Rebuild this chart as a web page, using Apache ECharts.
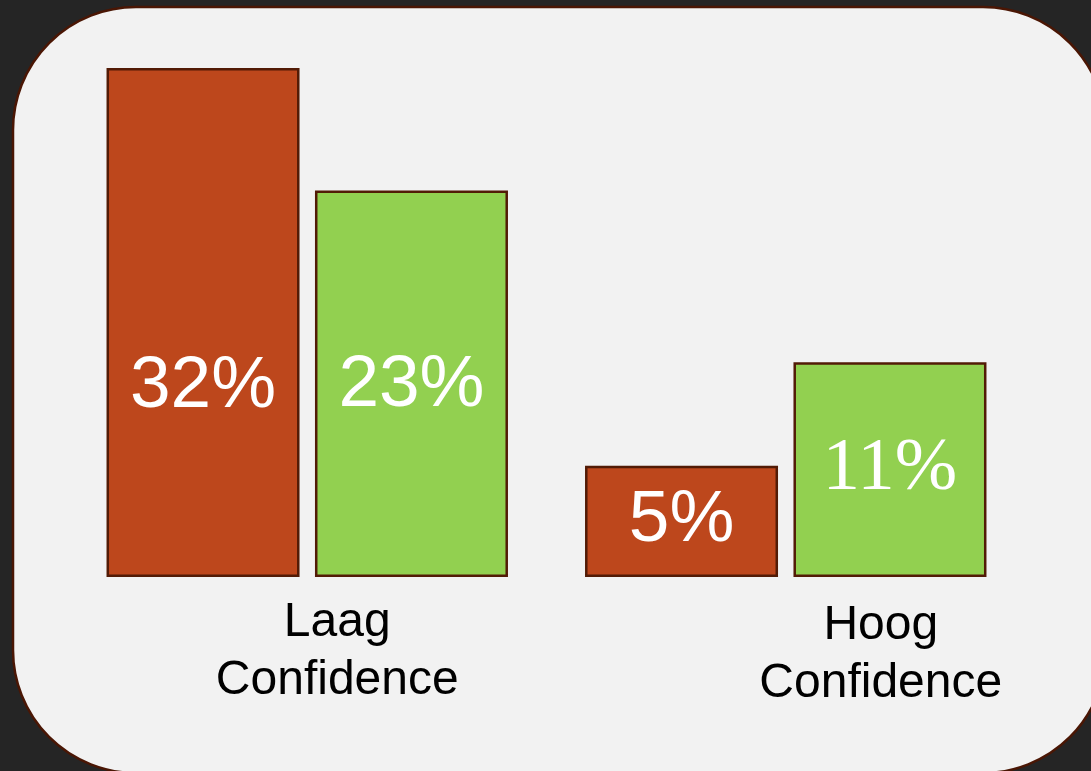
<!DOCTYPE html>
<html>
<head>
<meta charset="utf-8">
<script src="https://cdn.jsdelivr.net/npm/echarts@6/dist/echarts.min.js"></script>
<style>
    html, body { margin: 0; padding: 0; background: #252525; }
    #chart { width: 1091px; height: 771px; }
</style>
</head>
<body>
<div id="chart"></div>
<script>
// categories (two-line labels)
var categories = ['Laag\nConfidence', 'Hoog\nConfidence'];
// bar heights (in the same units as the 32% bar)
var redHeights = [32, 7.0];
var greenHeights = [24.3, 13.5];
// printed labels
var redLabels = ['32%', '5%'];
var greenLabels = ['23%', '11%'];

var RED = '#BD471C', GREEN = '#92D050', EDGE = '#521B06';

function buildData(heights, labels, extra) {
    var out = [];
    for (var i = 0; i < heights.length; i++) {
        var item = { value: heights[i], name: labels[i], label: {} };
        if (extra[i]) item.label = extra[i];
        out.push(item);
    }
    return out;
}

var myChart = echarts.init(document.getElementById('chart'));
var option = {
    backgroundColor: '#252525',
    animation: false,
    graphic: [{
        type: 'rect',
        z: -10,
        shape: { x: 13, y: 7, width: 1093, height: 766, r: 123 },
        style: { fill: '#F2F2F2', stroke: '#4A1604', lineWidth: 2.5 }
    }],
    grid: { left: 68, right: 66, top: 68, bottom: 194 },
    xAxis: {
        type: 'category',
        data: categories,
        axisLine: { show: false },
        axisTick: { show: false },
        axisLabel: {
            interval: 0,
            margin: 17,
            formatter: function (val, idx) {
                var key = idx === 0 ? 'a' : 'b';
                return val.split('\n').map(function (s) { return '{' + key + '|' + s + '}'; }).join('\n');
            },
            rich: {
                a: { fontFamily: 'Liberation Sans', fontSize: 48, color: '#000', lineHeight: 58, padding: [0, 0, 0, 60] },
                b: { fontFamily: 'Liberation Sans', fontSize: 48, color: '#000', lineHeight: 58, padding: [6, 0, 0, 190] }
            }
        }
    },
    yAxis: {
        type: 'value',
        min: 0,
        max: 32,
        show: false,
        splitLine: { show: false }
    },
    series: [{
        type: 'bar',
        barWidth: 193,
        barGap: '8%',
        data: buildData(redHeights, redLabels, [{ offset: [0, 64] }, null]),
        itemStyle: { color: RED, borderColor: EDGE, borderWidth: 2.5 },
        label: {
            show: true,
            position: 'inside',
            formatter: '{b}',
            color: '#fff',
            fontFamily: 'Liberation Sans',
            fontSize: 73
        }
    }, {
        type: 'bar',
        barWidth: 193,
        data: buildData(greenHeights, greenLabels, [{ offset: [0, 2] }, { fontFamily: 'Liberation Serif', fontSize: 75 }]),
        itemStyle: { color: GREEN, borderColor: EDGE, borderWidth: 2.5 },
        label: {
            show: true,
            position: 'inside',
            formatter: '{b}',
            color: '#fff',
            fontFamily: 'Liberation Sans',
            fontSize: 73
        }
    }]
};
myChart.setOption(option);
</script>
</body>
</html>
